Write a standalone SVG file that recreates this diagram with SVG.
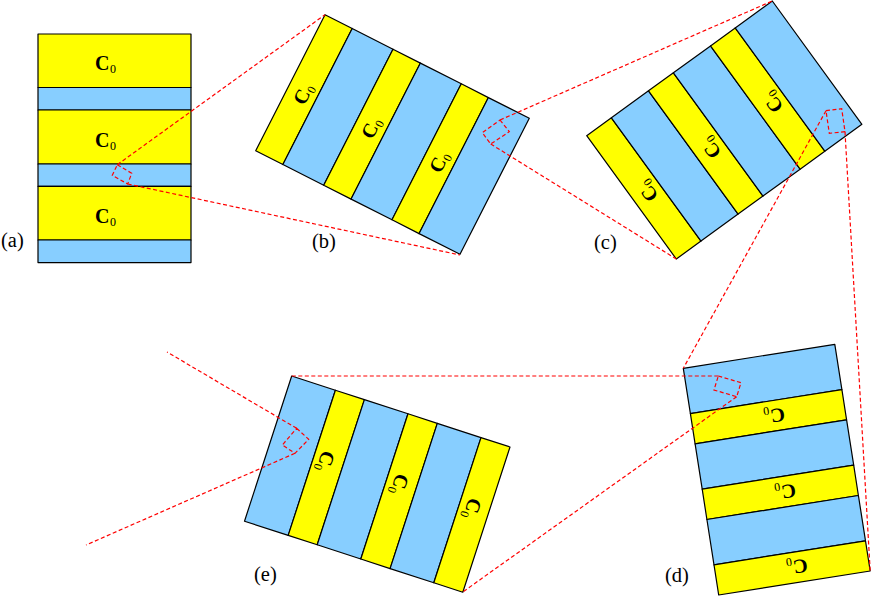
<svg xmlns="http://www.w3.org/2000/svg" width="872" height="596" viewBox="0 0 872 596">
<style>
.y{fill:#ffff00}
.b{fill:#87ceff}
.y,.b{stroke:#000;stroke-width:1.2;stroke-linejoin:round}
.r{fill:none;stroke:#f00;stroke-width:1.2;stroke-dasharray:4 2.5}
text{font-family:"Liberation Serif","Times New Roman",serif;fill:#000}
.p{font-size:20.5px}
.c{font-size:20px;font-weight:bold}
.s{font-size:12px;font-weight:normal}
</style>
<rect width="872" height="596" fill="#fff"/>
<g id="panel-a">
<rect class="y" x="38" y="34" width="153" height="53.5"/>
<rect class="b" x="38" y="87.5" width="153" height="22.5"/>
<rect class="y" x="38" y="110" width="153" height="54"/>
<rect class="b" x="38" y="164" width="153" height="22.3"/>
<rect class="y" x="38" y="186.3" width="153" height="53.7"/>
<rect class="b" x="38" y="240" width="153" height="22.6"/>
<text class="c" transform="translate(105,63)" x="-10" y="6.8">C<tspan class="s" dx="0.5" dy="3">0</tspan></text>
<text class="c" transform="translate(105,139.7)" x="-10" y="6.8">C<tspan class="s" dx="0.5" dy="3">0</tspan></text>
<text class="c" transform="translate(105,215.7)" x="-10" y="6.8">C<tspan class="s" dx="0.5" dy="3">0</tspan></text>
<text class="p" x="1" y="247">(a)</text>
</g>
<g id="panel-b">
<polygon class="y" points="325,14.7 352.2,28.5 282.9,164.5 255.7,150.7"/>
<polygon class="b" points="352.2,28.5 393,49.2 323.7,185.2 282.9,164.5"/>
<polygon class="y" points="393,49.2 420.4,63.1 351.1,199.1 323.7,185.2"/>
<polygon class="b" points="420.4,63.1 461.3,83.8 392,219.8 351.1,199.1"/>
<polygon class="y" points="461.3,83.8 488.4,97.6 419.1,233.6 392,219.8"/>
<polygon class="b" points="488.4,97.6 529.3,118.3 460,254.3 419.1,233.6"/>
<text class="c" transform="translate(302.7,94.3) rotate(-63)" x="-10" y="6.8">C<tspan class="s" dx="0.5" dy="3">0</tspan></text>
<text class="c" transform="translate(370.7,128.3) rotate(-63)" x="-10" y="6.8">C<tspan class="s" dx="0.5" dy="3">0</tspan></text>
<text class="c" transform="translate(438.7,162.3) rotate(-63)" x="-10" y="6.8">C<tspan class="s" dx="0.5" dy="3">0</tspan></text>
<text class="p" x="312" y="248">(b)</text>
</g>
<g id="panel-c">
<polygon class="y" points="586.7,135.7 611.4,117.8 701,241.1 676.3,259"/>
<polygon class="b" points="611.4,117.8 648.5,90.8 738.1,214.1 701,241.1"/>
<polygon class="y" points="648.5,90.8 673.4,72.8 763,196.1 738.1,214.1"/>
<polygon class="b" points="673.4,72.8 710.5,45.9 800.1,169.2 763,196.1"/>
<polygon class="y" points="710.5,45.9 735.2,27.9 824.8,151.2 800.1,169.2"/>
<polygon class="b" points="735.2,27.9 772.3,1 861.9,124.3 824.8,151.2"/>
<text class="c" transform="translate(647.7,191.7) rotate(-126)" x="-10" y="6.8">C<tspan class="s" dx="0.5" dy="3">0</tspan></text>
<text class="c" transform="translate(710.7,148.3) rotate(-126)" x="-10" y="6.8">C<tspan class="s" dx="0.5" dy="3">0</tspan></text>
<text class="c" transform="translate(772.7,102.7) rotate(-126)" x="-10" y="6.8">C<tspan class="s" dx="0.5" dy="3">0</tspan></text>
<text class="p" x="594" y="249">(c)</text>
</g>
<g id="panel-d">
<polygon class="b" points="683.3,368.3 834.8,344.3 841.9,389.6 690.4,413.6"/>
<polygon class="y" points="690.4,413.6 841.9,389.6 846.6,419.8 695.1,443.8"/>
<polygon class="b" points="695.1,443.8 846.6,419.8 853.7,465.1 702.2,489.1"/>
<polygon class="y" points="702.2,489.1 853.7,465.1 858.4,495.5 706.9,519.5"/>
<polygon class="b" points="706.9,519.5 858.4,495.5 865.5,540.8 714,564.8"/>
<polygon class="y" points="714,564.8 865.5,540.8 870.2,571 718.7,595"/>
<text class="c" transform="translate(775,415.7) rotate(171)" x="-10" y="6.8">C<tspan class="s" dx="0.5" dy="3">0</tspan></text>
<text class="c" transform="translate(786,491.7) rotate(171)" x="-10" y="6.8">C<tspan class="s" dx="0.5" dy="3">0</tspan></text>
<text class="c" transform="translate(797.7,566.7) rotate(171)" x="-10" y="6.8">C<tspan class="s" dx="0.5" dy="3">0</tspan></text>
<text class="p" x="665" y="581.7">(d)</text>
</g>
<g id="panel-e">
<polygon class="b" points="291.7,376 335.4,390.2 288.2,535.4 244.5,521.2"/>
<polygon class="y" points="335.4,390.2 364.4,399.6 317.2,544.8 288.2,535.4"/>
<polygon class="b" points="364.4,399.6 408,413.8 360.8,559 317.2,544.8"/>
<polygon class="y" points="408,413.8 437.3,423.4 390.1,568.6 360.8,559"/>
<polygon class="b" points="437.3,423.4 481,437.6 433.8,582.8 390.1,568.6"/>
<polygon class="y" points="481,437.6 510,447 462.8,592.2 433.8,582.8"/>
<text class="c" transform="translate(326,461) rotate(108)" x="-10" y="6.8">C<tspan class="s" dx="0.5" dy="3">0</tspan></text>
<text class="c" transform="translate(400,484) rotate(108)" x="-10" y="6.8">C<tspan class="s" dx="0.5" dy="3">0</tspan></text>
<text class="c" transform="translate(472.7,508.3) rotate(108)" x="-10" y="6.8">C<tspan class="s" dx="0.5" dy="3">0</tspan></text>
<text class="p" x="254" y="581">(e)</text>
</g>
<g id="connectors">
<polygon class="r" points="117.3,164.7 131.7,173.3 127.7,184 112.3,175.3"/>
<path class="r" d="M117.3,164.7L325,14.7M127.7,184L460,255"/>
<polygon class="r" points="500,120 509.3,131.7 490.7,144 482.3,132.7"/>
<path class="r" d="M500,120L772.3,1M490.7,144L676.3,259"/>
<polygon class="r" points="826,110.7 841.7,108.7 845,131.7 829.3,133.3"/>
<path class="r" d="M826,110.7L683.3,368.3M845,131.7L870.2,571"/>
<polygon class="r" points="718.3,376 741,382.7 736.7,396.7 714,390"/>
<path class="r" d="M718.3,376L291.7,376M736.7,396.7L462.8,592"/>
<polygon class="r" points="296.7,428.3 308.7,439.3 295,453.3 282.3,445"/>
<path class="r" d="M296.7,428.3L167,352M295,453.3L86,545"/>
</g>
</svg>
